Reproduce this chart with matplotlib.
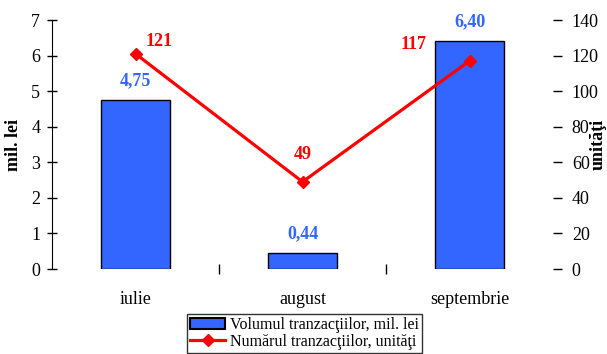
import matplotlib
matplotlib.use("Agg")
import matplotlib.pyplot as plt
from matplotlib.lines import Line2D
from matplotlib.patches import Patch

# data
months = ["iulie", "august", "septembrie"]
volume = [4.75, 0.44, 6.40]          # mil. lei
volume_labels = ["4,75", "0,44", "6,40"]
count = [121, 49, 117]               # unitati

plt.rcParams["font.family"] = ["Liberation Serif", "DejaVu Serif"]

blue = "#3366FF"
red = "#FF0000"

fig = plt.figure(figsize=(6.07, 3.54), dpi=100)
ax = fig.add_axes([0.0857, 0.2401, 0.8254, 0.7034])
ax2 = ax.twinx()

xs = list(range(len(months)))
ax.bar(xs, volume, width=0.41, color=blue, edgecolor="black", linewidth=1.0, zorder=2)
ax2.plot(xs, count, color=red, linewidth=2.3, marker="D", markersize=6, zorder=3)

ax.set_xlim(-0.5, 2.5)
ax.set_ylim(0, 7)
ax2.set_ylim(0, 140)

# left axis
ax.set_yticks(range(0, 8))
ax.tick_params(axis="y", direction="inout", length=7, width=1, labelsize=13, pad=5)
ax.set_ylabel("mil. lei", fontsize=13, fontweight="bold")
ax.yaxis.set_label_coords(-0.06, 0.5)

# bottom axis: labels at centers, ticks between categories
ax.set_xticks(xs)
ax.set_xticklabels(months, fontsize=13)
ax.tick_params(axis="x", which="major", length=0, pad=16)
ax.set_xticks([0.5, 1.5], minor=True)
ax.tick_params(axis="x", which="minor", direction="inout", length=7, width=1)

for s in ["top", "right", "bottom"]:
    ax.spines[s].set_visible(False)
for s in ["top", "left", "bottom", "right"]:
    ax2.spines[s].set_visible(False)

# right axis
ax2.set_yticks(range(0, 141, 20))
ax2.tick_params(axis="y", direction="out", length=6.5, width=1, labelsize=13, pad=7)
ax2.set_ylabel("unităţi", fontsize=13, fontweight="bold", rotation=90)
ax2.yaxis.set_label_coords(1.073, 0.5)

# data labels
for x, v, lab in zip(xs, volume, volume_labels):
    ax.annotate(lab, (x, v), xytext=(0, 14), textcoords="offset points",
                ha="center", va="center", color=blue, fontsize=13, fontweight="bold")

count_offsets = [(17, 9), (0, 19.5), (-40, 11.5)]
for x, c, off in zip(xs, count, count_offsets):
    ax2.annotate(str(c), (x, c), xytext=off, textcoords="offset points",
                 ha="center", va="center", color=red, fontsize=13, fontweight="bold")

# legend kept just inside the bottom edge
handles = [Patch(facecolor=blue, edgecolor="black", linewidth=1.5),
           Line2D([0], [0], color=red, linewidth=2.3, marker="D", markersize=6)]
fig.legend(handles, ["Volumul tranzacţiilor, mil. lei", "Numărul tranzacţiilor, unităţi"],
           loc="lower left", bbox_to_anchor=(187 / 607, 1 / 354),
           fontsize=11.5, frameon=True, fancybox=False, edgecolor="black",
           borderpad=0.2, labelspacing=0.05, handlelength=2.2, handletextpad=0.3,
           borderaxespad=0)

fig.savefig("out.png", dpi=100)
